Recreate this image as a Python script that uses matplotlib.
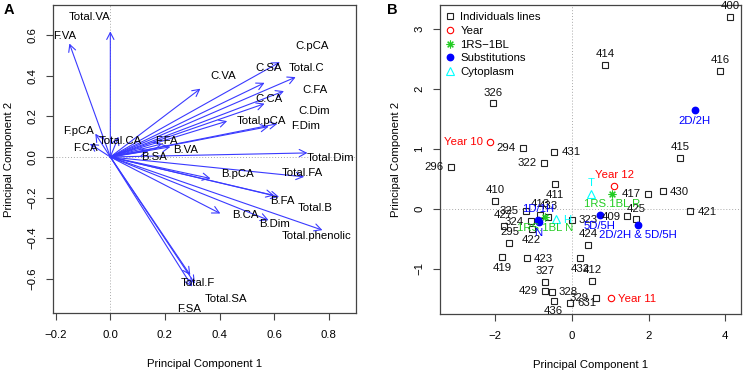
import matplotlib
matplotlib.use("Agg")
import matplotlib.pyplot as plt
from matplotlib.patches import FancyArrowPatch
from matplotlib.lines import Line2D

plt.rcParams['font.family'] = ['Liberation Sans', 'DejaVu Sans']

# ---------------- Panel A: variable loadings ----------------
var_names = ["Total.VA", "F.VA", "F.pCA", "F.CA", "Total.CA", "F.FA", "B.SA", "B.VA",
             "C.VA", "C.SA", "C.pCA", "Total.C", "C.FA", "C.CA", "C.Dim", "F.Dim",
             "Total.pCA", "Total.Dim", "Total.FA", "B.pCA", "B.FA", "Total.B",
             "B.CA", "B.Dim", "Total.phenolic", "Total.F", "Total.SA", "F.SA"]
var_pc1 = [0.0, -0.15, -0.055, -0.075, 0.03, 0.19, 0.14, 0.22,
           0.33, 0.565, 0.621, 0.679, 0.636, 0.565, 0.612, 0.58,
           0.428, 0.722, 0.71, 0.367, 0.618, 0.60,
           0.403, 0.58, 0.777, 0.293, 0.31, 0.30]
var_pc2 = [0.62, 0.56, 0.115, 0.065, 0.10, 0.065, 0.03, 0.05,
           0.337, 0.366, 0.468, 0.394, 0.325, 0.263, 0.164, 0.15,
           0.177, 0.02, -0.098, -0.106, -0.197, -0.19,
           -0.279, -0.312, -0.361, -0.583, -0.625, -0.64]
lab_pc1 = [-0.075, -0.167, -0.115, -0.093, 0.038, 0.207, 0.16, 0.277,
           0.413, 0.58, 0.74, 0.72, 0.75, 0.58, 0.746, 0.716,
           0.554, 0.808, 0.704, 0.465, 0.632, 0.75,
           0.493, 0.60, 0.755, 0.321, 0.425, 0.289]
lab_pc2 = [0.69, 0.596, 0.13, 0.044, 0.079, 0.077, 0.0, 0.033,
           0.40, 0.44, 0.55, 0.44, 0.33, 0.284, 0.225, 0.151,
           0.176, -0.003, -0.079, -0.085, -0.218, -0.254,
           -0.284, -0.33, -0.39, -0.624, -0.70, -0.75]
a_xticks = [-0.2, 0.0, 0.2, 0.4, 0.6, 0.8]
a_yticks = [-0.6, -0.4, -0.2, 0.0, 0.2, 0.4, 0.6]

# ---------------- Panel B: scores ----------------
line_names = ["400", "414", "416", "326", "294", "431", "322", "296", "415", "410",
              "411", "417", "430", "421", "409", "425", "323", "424", "419", "423",
              "432", "412", "327", "429", "328", "436", "631", "329", "295", "324",
              "427", "325", "422", "413", "433"]
line_pc1 = [4.13, 0.87, 3.86, -2.06, -1.28, -0.46, -0.74, -3.16, 2.83, -2.0,
            -0.44, 1.98, 2.37, 3.09, 1.45, 1.67, 0.0, 0.42, -1.83, -1.17,
            0.22, 0.52, -0.70, -0.71, -0.52, -0.48, -0.04, 0.63, -1.63, -1.08,
            -1.78, -1.20, -1.05, -0.83, -0.63]
line_pc2 = [3.21, 2.40, 2.30, 1.76, 1.02, 0.95, 0.77, 0.70, 0.85, 0.13,
            0.41, 0.25, 0.29, -0.04, -0.13, -0.18, -0.19, -0.61, -0.81, -0.83,
            -0.83, -1.21, -1.22, -1.37, -1.39, -1.54, -1.57, -1.49, -0.57, -0.21,
            -0.29, -0.03, -0.34, -0.11, -0.14]
line_pos = [3, 3, 3, 3, 2, 4, 2, 2, 3, 3,
            1, 2, 4, 4, 2, 3, 4, 3, 1, 4,
            1, 3, 3, 2, 4, 1, 4, 2, 3, 2,
            3, 2, 1, 3, 3]

year_names = ["Year 10", "Year 12", "Year 11"]
year_pc1 = [-2.13, 1.10, 1.02]
year_pc2 = [1.12, 0.38, -1.50]
year_pos = [2, 3, 4]

rs_names = ["1RS.1BL R", "1RS.1BL N"]
rs_pc1 = [1.04, -0.71]
rs_pc2 = [0.25, -0.14]
rs_pos = [1, 1]

sub_names = ["2D/2H", "5D/5H", "2D/2H & 5D/5H", "1D/1H", "N"]
sub_pc1 = [3.20, 0.72, 1.72, -0.89, -0.87]
sub_pc2 = [1.65, -0.105, -0.27, -0.19, -0.23]
sub_pos = [1, 1, 1, 3, 1]

cyto_names = ["T", "H"]
cyto_pc1 = [0.50, -0.42]
cyto_pc2 = [0.25, -0.18]
cyto_pos = [3, 4]

b_xticks = [-2, 0, 2, 4]
b_yticks = [-1, 0, 1, 2, 3]

legend_labels = ["Individuals lines", "Year", "1RS\u22121BL", "Substitutions", "Cytoplasm"]

FS = 8.2
W, H = 744, 370
fig = plt.figure(figsize=(W / 100, H / 100), dpi=100)

def style_axes(ax, xticks, yticks, xlabs, ylabs):
    for s in ax.spines.values():
        s.set_linewidth(0.9)
        s.set_color('#444444')
    ax.set_xticks(xticks)
    ax.set_yticks(yticks)
    ax.set_xticklabels(xlabs)
    ax.set_yticklabels(ylabs)
    ax.tick_params(axis='both', length=5, width=0.8, labelsize=FS, color='#444444')
    ax.tick_params(axis='x', pad=7)
    ax.tick_params(axis='y', pad=6)
    for lab in ax.get_yticklabels():
        lab.set_rotation(90)
        lab.set_va('center')
    ax.set_xlabel("Principal Component 1", fontsize=FS, labelpad=14)
    ax.set_ylabel("Principal Component 2", fontsize=FS, labelpad=10)
    ax.axhline(0, color='#aaaaaa', lw=0.7, ls=(0, (1, 2)), zorder=0)
    ax.axvline(0, color='#aaaaaa', lw=0.7, ls=(0, (1, 2)), zorder=0)

def fmt(v, nd):
    s = f"{v:.{nd}f}"
    return s.replace('-', '\u2212')

# Panel A
axA = fig.add_axes([53 / W, 1 - 313 / H, 303 / W, 308 / H])
axA.set_xlim(-0.21, 0.90)
axA.set_ylim(-0.77, 0.75)
style_axes(axA, a_xticks, a_yticks, [fmt(v, 1) for v in a_xticks], [fmt(v, 1) for v in a_yticks])
arrow_col = '#3a3aff'
for x, y in zip(var_pc1, var_pc2):
    arr = FancyArrowPatch((0, 0), (x, y), arrowstyle='->,head_length=5,head_width=2.6',
                          mutation_scale=1, color=arrow_col, lw=0.8,
                          shrinkA=0, shrinkB=0, zorder=2)
    axA.add_patch(arr)
for name, x, y in zip(var_names, lab_pc1, lab_pc2):
    axA.text(x, y, name, fontsize=FS, ha='center', va='center', color='black', zorder=3)
fig.text(9 / W, 1 - 10 / H, "A", fontsize=10.5, fontweight='bold', ha='center', va='center')

# Panel B
axB = fig.add_axes([439.7 / W, 1 - 314 / H, 301.6 / W, 309.3 / H])
axB.set_xlim(-3.45, 4.42)
axB.set_ylim(-1.76, 3.41)
style_axes(axB, b_xticks, b_yticks, [fmt(v, 0) for v in b_xticks], [fmt(v, 0) for v in b_yticks])

def label_points(ax, names, xs, ys, poss, color):
    for n, x, y, p in zip(names, xs, ys, poss):
        if p == 1:
            off, ha = (0, -7.6), 'center'
        elif p == 2:
            off, ha = (-5.0, -0.3), 'right'
        elif p == 3:
            off, ha = (0, 7.8), 'center'
        else:
            off, ha = (5.0, -0.3), 'left'
        ax.annotate(n, (x, y), xytext=off, textcoords='offset points',
                    ha=ha, va='center', fontsize=FS, color=color, zorder=5)

ms = 4.6
GREEN = '#22cc22'
axB.plot(line_pc1, line_pc2, ls='none', marker='s', ms=ms, mfc='none', mec='#222222', mew=0.8, zorder=3)
label_points(axB, line_names, line_pc1, line_pc2, line_pos, '#111111')
axB.plot(year_pc1, year_pc2, ls='none', marker='o', ms=ms, mfc='none', mec='red', mew=0.8, zorder=4)
label_points(axB, year_names, year_pc1, year_pc2, year_pos, 'red')
axB.plot(rs_pc1, rs_pc2, ls='none', marker=(8, 2, 0), ms=ms + 1, mec=GREEN, mew=0.8, zorder=4)
label_points(axB, rs_names, rs_pc1, rs_pc2, rs_pos, GREEN)
axB.plot(sub_pc1, sub_pc2, ls='none', marker='o', ms=ms, mfc='blue', mec='blue', zorder=4)
label_points(axB, sub_names, sub_pc1, sub_pc2, sub_pos, 'blue')
axB.plot(cyto_pc1, cyto_pc2, ls='none', marker='^', ms=ms + 0.6, mfc='none', mec='cyan', mew=0.8, zorder=4)
label_points(axB, cyto_names, cyto_pc1, cyto_pc2, cyto_pos, 'cyan')

handles = [
    Line2D([], [], ls='none', marker='s', ms=ms, mfc='none', mec='#222222', mew=0.8),
    Line2D([], [], ls='none', marker='o', ms=ms, mfc='none', mec='red', mew=0.8),
    Line2D([], [], ls='none', marker=(8, 2, 0), ms=ms + 1, mec=GREEN, mew=0.8),
    Line2D([], [], ls='none', marker='o', ms=ms, mfc='blue', mec='blue'),
    Line2D([], [], ls='none', marker='^', ms=ms + 0.6, mfc='none', mec='cyan', mew=0.8),
]
axB.legend(handles, legend_labels, loc='upper left', bbox_to_anchor=(0.018, 0.975),
           frameon=False, fontsize=FS, handlelength=0.8, handletextpad=0.54,
           labelspacing=0.32, borderaxespad=0, borderpad=0)
fig.text(392 / W, 1 - 10 / H, "B", fontsize=10.5, fontweight='bold', ha='center', va='center')

fig.savefig("out.png", dpi=100)
